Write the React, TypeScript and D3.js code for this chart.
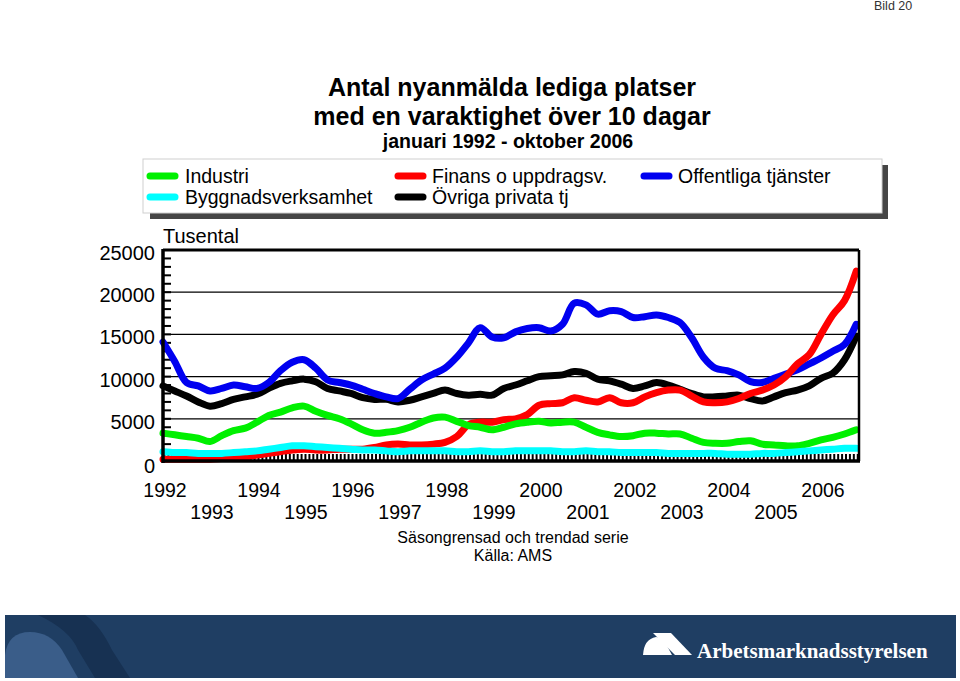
import React from "react";
import * as d3 from "d3";

// Quarterly readings (thousands), Jan 1992 .. Oct 2006
const startYear = 1992;
const industri = [3.3,3.1,2.9,2.7,2.3,3.0,3.6,3.9,4.6,5.4,5.8,6.3,6.5,5.9,5.4,5.0,4.4,3.7,3.3,3.4,3.6,4.0,4.6,5.1,5.2,4.7,4.2,4.0,3.7,4.0,4.4,4.6,4.7,4.5,4.6,4.6,4.0,3.4,3.1,2.9,3.0,3.3,3.3,3.2,3.2,2.7,2.2,2.1,2.1,2.3,2.4,2.0,1.9,1.8,1.8,2.1,2.5,2.8,3.2,3.7];
const bygg = [1.1,1.0,1.0,0.9,0.9,0.9,1.0,1.1,1.2,1.4,1.6,1.8,1.8,1.7,1.6,1.5,1.4,1.3,1.3,1.2,1.1,1.2,1.2,1.2,1.2,1.1,1.1,1.2,1.1,1.1,1.2,1.2,1.2,1.2,1.1,1.1,1.2,1.1,1.1,1.0,1.0,1.0,1.0,0.9,0.9,0.9,0.9,0.9,0.8,0.8,0.8,0.9,0.9,1.0,1.1,1.2,1.3,1.4,1.5,1.5];
const finans = [0.2,0.2,0.2,0.2,0.2,0.3,0.4,0.5,0.7,0.9,1.1,1.3,1.4,1.3,1.3,1.4,1.4,1.4,1.6,1.9,2.0,1.9,1.9,2.0,2.2,2.9,4.3,4.6,4.6,4.9,5.0,5.5,6.6,6.8,6.9,7.5,7.2,7.0,7.5,6.9,6.9,7.6,8.1,8.4,8.4,7.7,7.0,6.9,7.0,7.4,8.0,8.4,9.0,10.0,11.5,12.6,15.0,17.3,19.0,22.5];
const ovriga = [8.9,8.3,7.7,7.0,6.5,6.8,7.3,7.6,7.9,8.6,9.2,9.5,9.7,9.4,8.6,8.3,8.0,7.5,7.3,7.3,7.0,7.2,7.6,8.0,8.4,8.0,7.8,7.9,7.8,8.6,9.0,9.5,10.0,10.1,10.2,10.6,10.4,9.7,9.5,9.1,8.6,8.9,9.3,9.0,8.5,8.0,7.6,7.6,7.7,7.8,7.4,7.1,7.6,8.1,8.4,8.9,9.8,10.4,12.0,14.8];
const offentliga = [14.1,11.8,9.3,8.9,8.3,8.6,9.0,8.8,8.6,9.3,10.7,11.7,12.0,11.0,9.6,9.3,9.0,8.5,8.0,7.6,7.4,8.5,9.6,10.3,11.0,12.3,14.0,15.8,14.7,14.6,15.3,15.7,15.8,15.4,16.2,18.7,18.5,17.4,17.8,17.7,17.0,17.1,17.3,17.0,16.4,14.6,12.3,11.0,10.7,10.2,9.4,9.3,9.8,10.3,10.8,11.5,12.2,13.0,13.8,16.2];

const yTicks = [0, 5000, 10000, 15000, 20000, 25000];
const evenYears = [1992, 1994, 1996, 1998, 2000, 2002, 2004, 2006];
const oddYears = [1993, 1995, 1997, 1999, 2001, 2003, 2005];

const series = [
  { name: "Övriga privata tj", color: "#000000", values: ovriga },
  { name: "Offentliga tjänster", color: "#0000f0", values: offentliga },
  { name: "Finans o uppdragsv.", color: "#ff0000", values: finans },
  { name: "Industri", color: "#00f000", values: industri },
  { name: "Byggnadsverksamhet", color: "#00ffff", values: bygg },
];

const legendItems = [
  { name: "Industri", color: "#00f000", col: 0, row: 0 },
  { name: "Byggnadsverksamhet", color: "#00ffff", col: 0, row: 1 },
  { name: "Finans o uppdragsv.", color: "#ff0000", col: 1, row: 0 },
  { name: "Övriga privata tj", color: "#000000", col: 1, row: 1 },
  { name: "Offentliga tjänster", color: "#0000f0", col: 2, row: 0 },
];

const FONT = "'Liberation Sans', Arial, Helvetica, sans-serif";

export default function App() {
  const x = d3.scaleLinear().domain([1992, 1992 + 696 / 47]).range([163, 859]);
  const y = d3.scaleLinear().domain([0, 25000]).range([461, 250]);
  const line = d3
    .line<number>()
    .x((_, i) => x(startYear + i / 4))
    .y((d) => y(d * 1000))
    .curve(d3.curveCatmullRom.alpha(0.5));

  const minor = d3.range(0, 25001, 1000);
  const months = d3.range(0, 178).map((m) => startYear + m / 12);
  const legX = [147, 395, 641];
  const legTextX = [185, 432, 678];

  return (
    <div style={{ position: "absolute", left: 0, top: 0 }}>
      <svg width={960} height={681} style={{ display: "block", background: "#fff" }} fontFamily={FONT}>
        <text x={874} y={10} fontSize={12.5} fill="#333">Bild 20</text>

        <text x={512} y={96} textAnchor="middle" fontSize={25} fontWeight="bold">Antal nyanmälda lediga platser</text>
        <text x={512} y={125} textAnchor="middle" fontSize={25} fontWeight="bold">med en varaktighet över 10 dagar</text>
        <text x={508} y={148} textAnchor="middle" fontSize={19.5} fontWeight="bold">januari 1992 - oktober 2006</text>

        {/* legend */}
        <rect x={150} y={165} width={738} height={54} fill="#454545" />
        <rect x={143} y={159} width={739} height={54} fill="#fff" stroke="#cfcfcf" strokeWidth={1} />
        {legendItems.map((it) => (
          <g key={it.name}>
            <line x1={legX[it.col] + 3} x2={legX[it.col] + 28} y1={176 + it.row * 21} y2={176 + it.row * 21}
              stroke={it.color} strokeWidth={7} strokeLinecap="round" />
            <text x={legTextX[it.col]} y={183 + it.row * 21} fontSize={19.5}>{it.name}</text>
          </g>
        ))}

        <text x={163} y={243} fontSize={20}>Tusental</text>

        {/* grid */}
        {yTicks.filter((t) => t > 0 && t < 25000).map((t) => (
          <line key={t} x1={163} x2={859} y1={y(t)} y2={y(t)} stroke="#000" strokeWidth={1.3} />
        ))}
        {minor.map((t) => (
          <line key={"m" + t} x1={163} x2={171} y1={y(t)} y2={y(t)} stroke="#000" strokeWidth={2} />
        ))}
        {months.map((m, i) => (
          <line key={"x" + i} x1={x(m) + 1.5} x2={x(m) + 1.5} y1={461} y2={454} stroke="#000" strokeWidth={2} />
        ))}

        {series.map((s) => (
          <path key={s.name} d={line(s.values) || ""} fill="none" stroke={s.color} strokeWidth={7}
            strokeLinejoin="round" strokeLinecap="round" />
        ))}

        {/* frame */}
        <line x1={163} x2={859} y1={250} y2={250} stroke="#000" strokeWidth={3} />
        <line x1={859} x2={859} y1={250} y2={461} stroke="#000" strokeWidth={2.5} />
        <line x1={163} x2={163} y1={249} y2={463} stroke="#000" strokeWidth={3.5} />
        <line x1={162} x2={860} y1={461} y2={461} stroke="#000" strokeWidth={3.5} />

        {yTicks.map((t) => (
          <text key={"yl" + t} x={155} y={y(t) + (t === 0 ? 12 : 10)} textAnchor="end" fontSize={20}>{t}</text>
        ))}
        {evenYears.map((yr) => (
          <text key={yr} x={x(yr) + 2} y={497} textAnchor="middle" fontSize={19.5}>{yr}</text>
        ))}
        {oddYears.map((yr) => (
          <text key={yr} x={x(yr) + 2} y={519} textAnchor="middle" fontSize={19.5}>{yr}</text>
        ))}

        <text x={513} y={543} textAnchor="middle" fontSize={16}>Säsongrensad och trendad serie</text>
        <text x={513} y={561} textAnchor="middle" fontSize={16}>Källa: AMS</text>

        {/* banner */}
        <rect x={5} y={615} width={951} height={63} fill="#1f3e63" />
        <path d="M5,678 L5,655 Q8,632 30,632 Q50,632 62,650 L78,678 Z" fill="#3a5d89" />
        <path d="M38,615 L85,615 Q100,625 112,650 L130,678 L95,678 L78,650 Q70,630 38,615 Z" fill="#173152" />
        <path d="M643,655 Q644,639 656,637 Q662,637 666,644 L672,655 Z" fill="#fff" />
        <path d="M653,633 L671,633 L692,655 L675,655 Z" fill="#fff" />
        <text x={697} y={658} fontSize={21} fontWeight="bold" fill="#fff"
          fontFamily="'Liberation Serif', 'Times New Roman', serif">Arbetsmarknadsstyrelsen</text>
      </svg>
    </div>
  );
}
